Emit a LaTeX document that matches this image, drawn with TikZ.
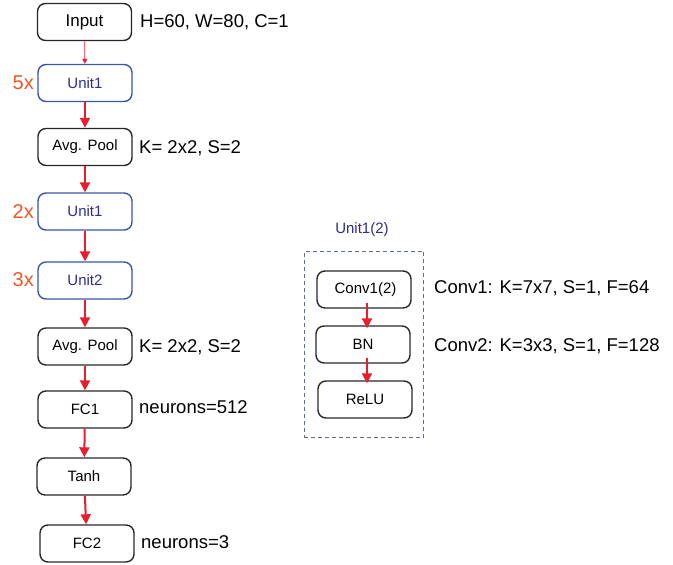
\documentclass[tikz,border=0pt]{standalone}
\usepackage{fontspec}
\setmainfont{Liberation Sans}
\usetikzlibrary{arrows.meta,fit}
\definecolor{unitblue}{RGB}{55,85,170}
\definecolor{unittext}{RGB}{45,45,140}
\definecolor{multorange}{RGB}{240,85,35}
\definecolor{arrowred}{RGB}{230,30,45}
\definecolor{boxgray}{RGB}{40,40,40}
\definecolor{dashblue}{RGB}{95,105,155}

\tikzset{
    layer/.style={draw=boxgray, line width=1.4pt, rounded corners=8pt, minimum width=94pt, minimum height=37pt, inner sep=0pt, font=\fontsize{15}{17}\selectfont},
    unitbox/.style={layer, draw=unitblue, text=unittext},
    note/.style={anchor=base west, inner sep=0pt, font=\fontsize{18.5}{20}\selectfont},
    times/.style={anchor=base west, inner sep=0pt, text=multorange, font=\fontsize{20}{22}\selectfont},
    flow/.style={draw=arrowred, line width=2pt, -{Triangle[length=10pt,width=10pt]}},
    thinflow/.style={draw=arrowred, line width=0.8pt, -{Triangle[length=5pt,width=5pt]}}
}

\begin{document}
\begin{tikzpicture}[x=1pt, y=-1pt]
            \useasboundingbox (0,0) rectangle (673,565);
            % main chain
            \node[layer, font=\fontsize{17}{19}\selectfont] (input) at (84.5,22) {Input};
            \node[unitbox] (unita) at (85,83) {Unit1};
            \node[layer] (poola) at (85,147) {Avg. Pool};
            \node[unitbox] (unitb) at (85,211.5) {Unit1};
            \node[unitbox] (unitc) at (85,280.5) {Unit2};
            \node[layer] (poolb) at (85,346.5) {Avg. Pool};
            \node[layer] (fca) at (85,409.5) {FC1};
            \node[layer] (tanh) at (84,476.5) {Tanh};
            \node[layer] (fcb) at (87,543.5) {FC2};
            \draw[thinflow] (input) -- (unita);
            \draw[flow] (unita) -- (poola);
            \draw[flow] (poola) -- (unitb);
            \draw[flow] (unitb) -- (unitc);
            \draw[flow] (unitc) -- (poolb);
            \draw[flow] (poolb) -- (fca);
            \draw[flow] (fca) -- (tanh);
            \draw[flow] (tanh) -- (fcb);
            % repeats
            \node[times] (ta) at (12.5,89.5) {5x};
            \node[times] (tb) at (12.5,218.5) {2x};
            \node[times] (tc) at (12.5,286.5) {3x};
            % settings
            \node[note] (ninput) at (140,27.5) {H=60, W=80, C=1};
            \node[note] (npoola) at (139,153.5) {K= 2x2, S=2};
            \node[note] (npoolb) at (139,352) {K= 2x2, S=2};
            \node[note] (nfca) at (139,413.5) {neurons=512};
            \node[note] (nfcb) at (141,548.5) {neurons=3};
            % unit detail
            \node[layer] (conv) at (364,289.5) {\hspace{3pt}Conv1(2)};
            \node[layer] (bn) at (363,344.5) {BN};
            \node[layer] (relu) at (365,399.5) {ReLU};
            \draw[flow, shorten <=-6pt, shorten >=-3pt] ([xshift=3pt]conv.south) -- ([xshift=4pt]bn.north);
            \draw[flow, shorten <=-6pt, shorten >=-3pt] ([xshift=4pt]bn.south) -- ([xshift=2pt]relu.north);
            \node[draw=dashblue, line width=1pt, dash pattern=on 4pt off 3pt, inner xsep=11pt, inner ysep=19pt, fit=(conv)(bn)(relu)] (unitframe) {};
            \node[anchor=base, inner sep=0pt, text=unittext, font=\fontsize{15}{17}\selectfont] (unitname) at (362,233) {Unit1(2)};
            \node[note] (nconv) at (434,293) {Conv1: K=7x7, S=1, F=64};
            \node[note] (nconvb) at (434,351.5) {Conv2: K=3x3, S=1, F=128};
        \end{tikzpicture}
\end{document}
